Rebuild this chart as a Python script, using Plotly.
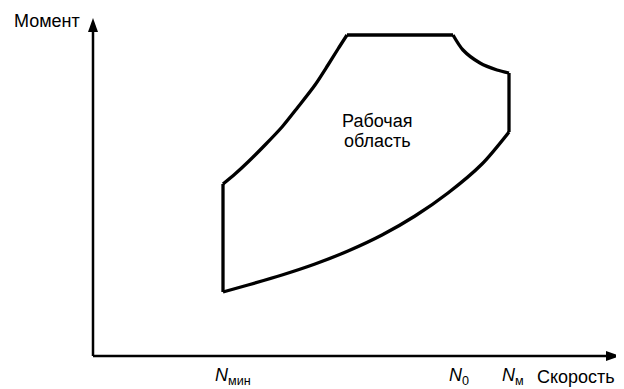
import plotly.graph_objects as go

# Рабочая область: координаты в единицах графика (скорость, момент)
n_min = 130
n_0 = 364
n_m = 416

left_speed = [n_min, n_min]
left_torque = [64, 172]

rise_speed = [130, 142, 155, 172, 189, 205, 222, 235, 245, 254]
rise_torque = [172, 182, 194, 211, 229, 249, 271, 291, 307, 321]

flat_speed = [254, 360]
flat_torque = [321, 321]

weak_speed = [360, 370, 387, 404, 416]
weak_torque = [321, 306, 293, 286, 283]

right_speed = [n_m, n_m]
right_torque = [283, 224]

low_speed = [416, 389, 355, 322, 289, 255, 222, 189, 155, 130]
low_torque = [224, 192, 163, 140, 121, 105, 92, 81, 71, 64]

speed_max = 527
torque_max = 338

FONT = "Liberation Sans, Arial, sans-serif"

fig = go.Figure()

segments = [
    (left_speed, left_torque, "linear"),
    (rise_speed, rise_torque, "spline"),
    (flat_speed, flat_torque, "linear"),
    (weak_speed, weak_torque, "spline"),
    (right_speed, right_torque, "linear"),
    (low_speed, low_torque, "spline"),
]
for xs, ys, shape in segments:
    fig.add_trace(go.Scatter(
        x=xs, y=ys, mode="lines",
        line=dict(color="black", width=3.3, shape=shape, smoothing=0.8),
        hoverinfo="skip", showlegend=False,
    ))

# оси
fig.add_shape(type="line", x0=0, y0=0, x1=speed_max - 10, y1=0,
              line=dict(color="black", width=2.5))
fig.add_shape(type="line", x0=0, y0=0, x1=0, y1=torque_max - 10,
              line=dict(color="black", width=2.5))

# наконечники стрелок
head_len, head_half = 14, 5
fig.add_shape(type="path", fillcolor="black", line=dict(width=0),
              path=f"M {speed_max} 0 L {speed_max - head_len} {head_half} "
                   f"L {speed_max - head_len} {-head_half} Z")
fig.add_shape(type="path", fillcolor="black", line=dict(width=0),
              path=f"M 0 {torque_max} L {head_half} {torque_max - head_len} "
                   f"L {-head_half} {torque_max - head_len} Z")

txt = dict(size=18, color="black", family=FONT)
label_y = -20
fig.add_annotation(x=-11, y=335, text="Момент", showarrow=False,
                   xanchor="right", yanchor="middle", font=txt)
fig.add_annotation(x=n_min - 10, y=label_y, text="<i>N</i><sub>мин</sub>",
                   showarrow=False, xanchor="left", yanchor="middle", font=txt)
fig.add_annotation(x=n_0 - 10, y=label_y, text="<i>N</i><sub>0</sub>",
                   showarrow=False, xanchor="left", yanchor="middle", font=txt)
fig.add_annotation(x=n_m - 9, y=label_y, text="<i>N</i><sub>м</sub>",
                   showarrow=False, xanchor="left", yanchor="middle", font=txt)
fig.add_annotation(x=442, y=-21, text="Скорость", showarrow=False,
                   xanchor="left", yanchor="middle", font=txt)
fig.add_annotation(x=284, y=235, text="Рабочая", showarrow=False,
                   xanchor="center", yanchor="middle", font=txt)
fig.add_annotation(x=284, y=215, text="область", showarrow=False,
                   xanchor="center", yanchor="middle", font=txt)

# страница имеет отступ 8px, поэтому фигура меньше и диапазоны сдвинуты
fig.update_layout(
    width=616, height=381,
    margin=dict(l=0, r=0, t=0, b=0),
    paper_bgcolor="white", plot_bgcolor="white",
    xaxis=dict(range=[-85, 531], visible=False, fixedrange=True),
    yaxis=dict(range=[-33, 348], visible=False, fixedrange=True),
)

fig.write_html("out.html")
